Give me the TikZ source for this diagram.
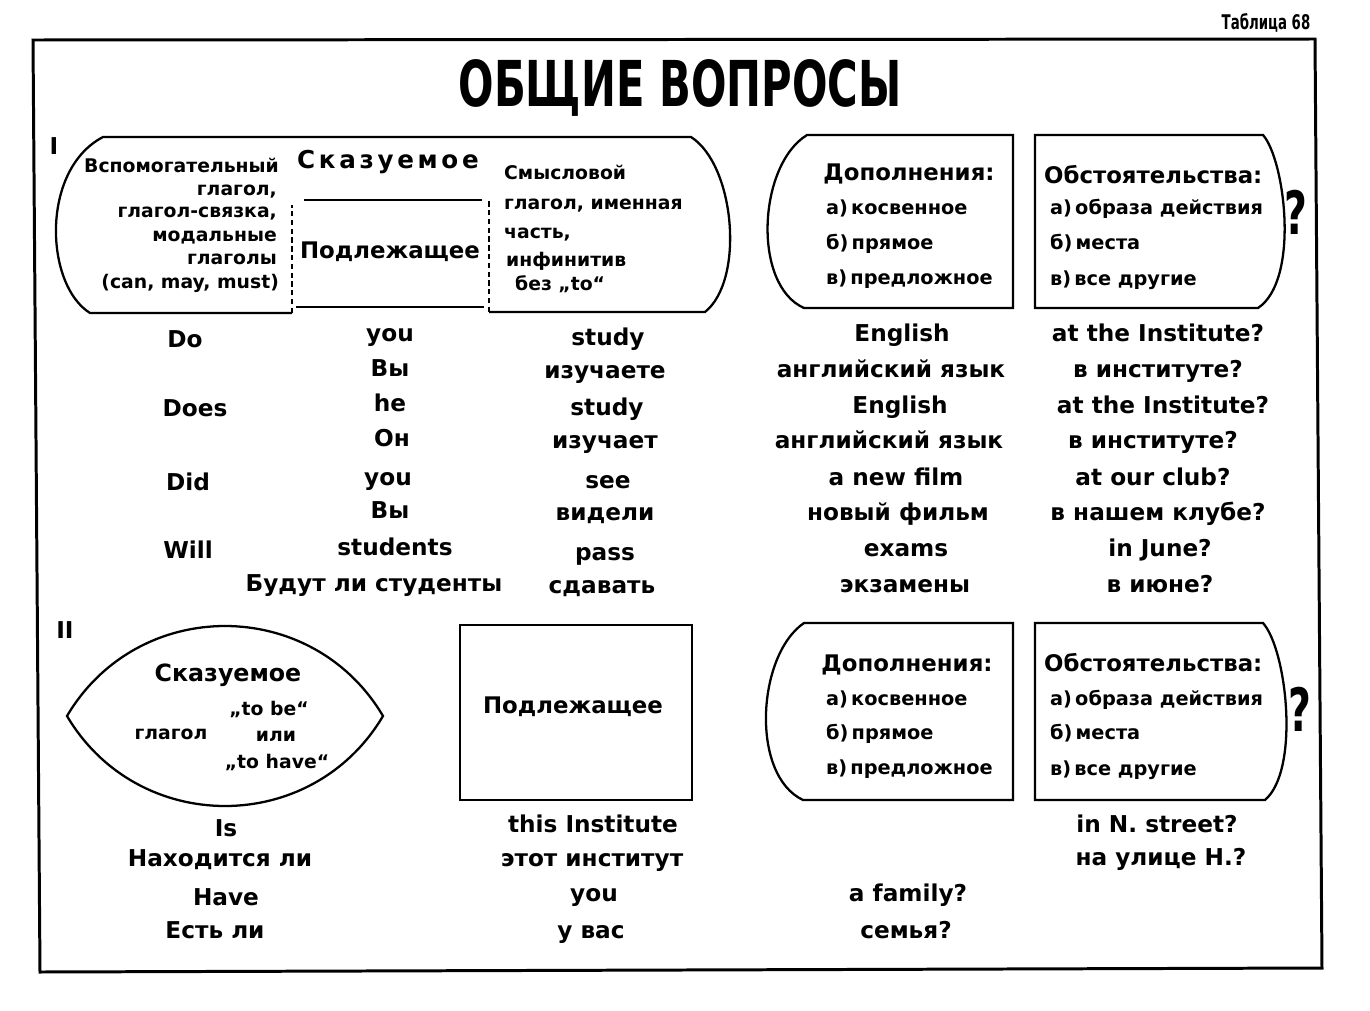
\documentclass[tikz,border=0pt]{standalone}
\usepackage{fontspec}
\setmainfont{DejaVu Sans}
\newfontfamily\narrowfont{DejaVu Sans}[FakeStretch=0.66]

\begin{document}
\begin{tikzpicture}[x=0.02cm, y=-0.02cm, line width=1.3pt,
  row/.style={inner sep=0pt, font=\fontsize{13.2}{15}\selectfont\bfseries, text height=9.6pt, text depth=0pt},
  small/.style={inner sep=0pt, font=\fontsize{10.7}{12}\selectfont\bfseries, text height=7.8pt, text depth=0pt},
  item/.style={inner sep=0pt, font=\fontsize{11}{12}\selectfont\bfseries, text height=8pt, text depth=0pt},
  head/.style={inner sep=0pt, font=\fontsize{13}{15}\selectfont\bfseries, text height=9.5pt, text depth=0pt},
  narrow/.style={inner sep=0pt, font=\narrowfont\bfseries, text depth=0pt},
  dash line/.style={dash pattern=on 3pt off 2pt}]
\useasboundingbox (0,0) rectangle (1370,1011);

% frame and title
\draw[line width=1.7pt] (33,40) -- (1315,39) -- (1322,968) -- (40,972) -- cycle;
\node[narrow, font=\narrowfont\bfseries\fontsize{11.5}{13}\selectfont, text height=8.4pt] (tab) at (1266,22) {Таблица 68};
\node[narrow, font=\narrowfont\bfseries\fontsize{36}{40}\selectfont, text height=26.2pt] (title) at (680,83) {ОБЩИЕ ВОПРОСЫ};
\node[row] (one) at (54,146) {I};
\node[row] (two) at (65,630) {II};

% section I: predicate and subject
\draw (292,313) -- (90,313) .. controls (45,285) and (40,170) .. (103,137)
  -- (691,137) .. controls (735,165) and (745,280) .. (705,312) -- (489,312);
\draw (304,200) -- (482,200);
\draw (296,307) -- (484,307);
\draw[dash line] (292,313) -- (292,205);
\draw[dash line] (489,312) -- (489,198);

\node[small, anchor=east] (aux1) at (280,166) {Вспомогательный};
\node[small, anchor=east] (aux2) at (278,189) {глагол,};
\node[small, anchor=east] (aux3) at (278,211) {глагол-связка,};
\node[small, anchor=east] (aux4) at (278,235) {модальные};
\node[small, anchor=east] (aux5) at (278,258) {глаголы};
\node[small, anchor=east] (aux6) at (280,282) {(can, may, must)};

\node[head, font=\fontsize{14}{16}\selectfont\bfseries\addfontfeature{LetterSpace=15}, text height=10.2pt] (pred) at (388,160) {Сказуемое};
\node[head] (subj) at (390,250) {Подлежащее};

\node[small, anchor=west] (main1) at (503,173) {Смысловой};
\node[small, anchor=west] (main2) at (503,203) {глагол, именная};
\node[small, anchor=west] (main3) at (503,232) {часть,};
\node[small, anchor=west] (main4) at (505,260) {инфинитив};
\node[small, anchor=west] (main5) at (514,284) {без „to“};

% section I: objects and adverbials
\draw (1013,135) -- (807,135) .. controls (758,165) and (752,285) .. (804,308) -- (1013,308) -- cycle;
\node[head] (obj) at (909,172) {Дополнения:};
\node[item, anchor=west] (obja) at (825,207) {а)\,косвенное};
\node[item, anchor=west] (objb) at (825,242) {б)\,прямое};
\node[item, anchor=west] (objc) at (825,277) {в)\,предложное};

\draw (1035,135) -- (1263,135) .. controls (1285,160) and (1300,280) .. (1258,308) -- (1035,308) -- cycle;
\node[head, anchor=west] (adv) at (1043,175) {Обстоятельства:};
\node[item, anchor=west] (adva) at (1049,207) {а)\,образа\ действия};
\node[item, anchor=west] (advb) at (1049,242) {б)\,места};
\node[item, anchor=west] (advc) at (1049,278) {в)\,все другие};
\node[narrow, font=\narrowfont\bfseries\fontsize{34}{40}\selectfont, text height=24.8pt] (q1) at (1296,213) {?};

% section I: examples
\node[row] (do) at (185,339) {Do};
\node[row] (does) at (195,408) {Does};
\node[row] (did) at (188,482) {Did};
\node[row] (will) at (188,550) {Will};

\node[row] (s1) at (390,333) {you};
\node[row] (s2) at (390,368) {Вы};
\node[row] (s3) at (390,403) {he};
\node[row] (s4) at (392,438) {Он};
\node[row] (s5) at (388,477) {you};
\node[row] (s6) at (390,510) {Вы};
\node[row] (s7) at (395,547) {students};
\node[row] (s8) at (374,583) {Будут ли студенты};

\node[row] (v1) at (608,337) {study};
\node[row] (v2) at (605,370) {изучаете};
\node[row] (v3) at (607,407) {study};
\node[row] (v4) at (605,440) {изучает};
\node[row] (v5) at (608,480) {see};
\node[row] (v6) at (605,512) {видели};
\node[row] (v7) at (605,552) {pass};
\node[row] (v8) at (602,585) {сдавать};

\node[row] (o1) at (902,333) {English};
\node[row] (o2) at (891,369) {английский язык};
\node[row] (o3) at (900,405) {English};
\node[row] (o4) at (889,440) {английский язык};
\node[row] (o5) at (896,477) {a new film};
\node[row] (o6) at (898,512) {новый фильм};
\node[row] (o7) at (906,548) {exams};
\node[row] (o8) at (905,584) {экзамены};

\node[row] (a1) at (1158,333) {at the Institute?};
\node[row] (a2) at (1158,369) {в институте?};
\node[row] (a3) at (1163,405) {at the Institute?};
\node[row] (a4) at (1153,440) {в институте?};
\node[row] (a5) at (1153,477) {at our club?};
\node[row] (a6) at (1158,512) {в нашем клубе?};
\node[row] (a7) at (1160,548) {in June?};
\node[row] (a8) at (1160,584) {в июне?};

% section II
\draw (67,716) .. controls (138,596) and (312,596) .. (383,716)
  .. controls (312,836) and (138,836) .. (67,716) -- cycle;
\node[head, font=\fontsize{13.5}{15}\selectfont\bfseries] (pred2) at (228,673) {Сказуемое};
\node[small] (verb) at (171,733) {глагол};
\node[small] (tobe) at (269,709) {„to be“};
\node[small] (or) at (276,735) {или};
\node[small] (tohave) at (277,762) {„to have“};

\draw (460,625) rectangle (692,800);
\node[head] (subj2) at (573,705) {Подлежащее};

\draw (1013,623) -- (804,623) .. controls (757,655) and (750,775) .. (803,800) -- (1013,800) -- cycle;
\node[head] (obj2) at (907,663) {Дополнения:};
\node[item, anchor=west] (obj2a) at (825,698) {а)\,косвенное};
\node[item, anchor=west] (obj2b) at (825,732) {б)\,прямое};
\node[item, anchor=west] (obj2c) at (825,767) {в)\,предложное};

\draw (1035,623) -- (1263,623) .. controls (1287,650) and (1300,770) .. (1265,800) -- (1035,800) -- cycle;
\node[head, anchor=west] (adv2) at (1043,663) {Обстоятельства:};
\node[item, anchor=west] (adv2a) at (1049,698) {а)\,образа действия};
\node[item, anchor=west] (adv2b) at (1049,732) {б)\,места};
\node[item, anchor=west] (adv2c) at (1049,768) {в)\,все другие};
\node[narrow, font=\narrowfont\bfseries\fontsize{34}{40}\selectfont, text height=24.8pt] (q2) at (1300,710) {?};

% section II: examples
\node[row] (is) at (226,828) {Is};
\node[row] (is2) at (220,858) {Находится ли};
\node[row] (have) at (226,897) {Have};
\node[row] (have2) at (215,930) {Есть ли};

\node[row] (t1) at (593,824) {this Institute};
\node[row] (t2) at (592,858) {этот институт};
\node[row] (t3) at (594,893) {you};
\node[row] (t4) at (591,930) {у вас};

\node[row] (f1) at (908,893) {a family?};
\node[row] (f2) at (906,930) {семья?};

\node[row] (n1) at (1157,824) {in N. street?};
\node[row] (n2) at (1161,857) {на улице Н.?};
\end{tikzpicture}
\end{document}
